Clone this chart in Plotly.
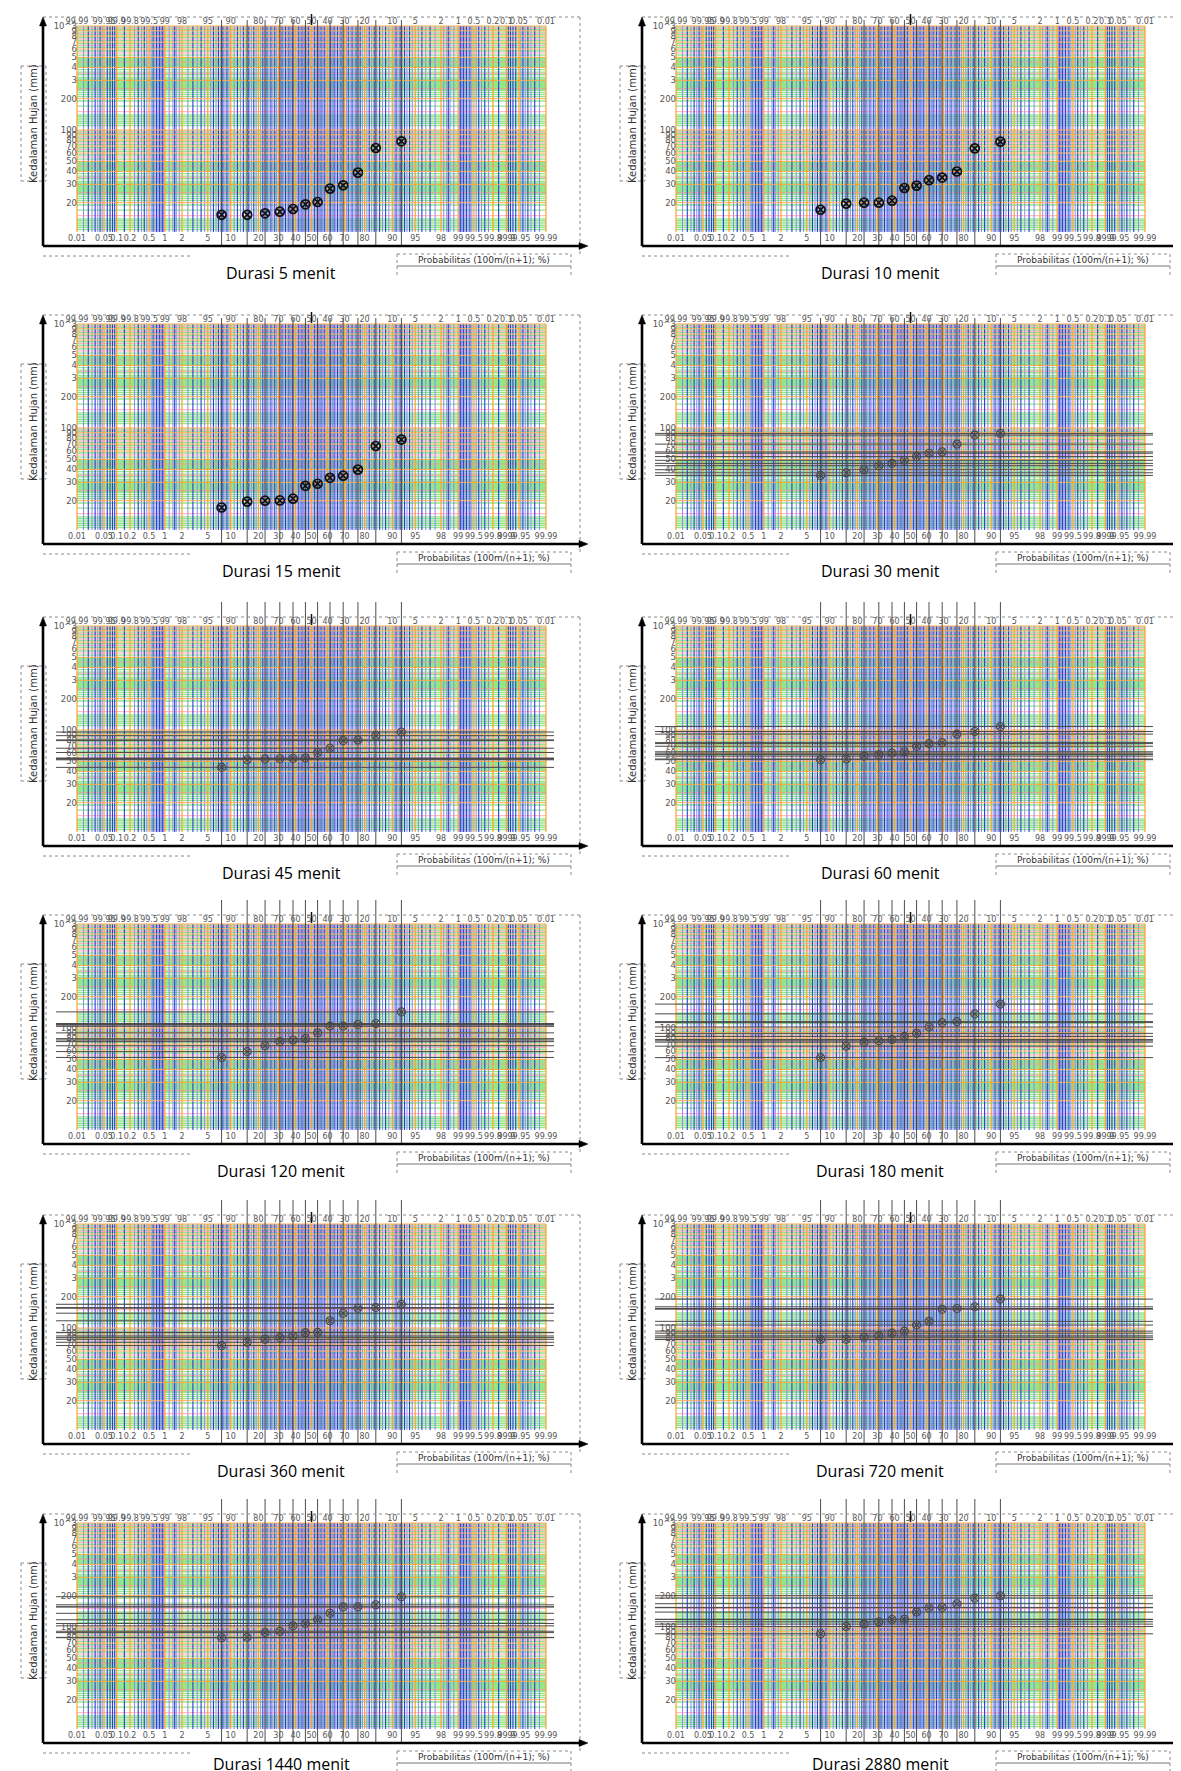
import math
from statistics import NormalDist
import plotly.graph_objects as go

W, H = 1181, 1771

# ---------------- data ----------------
DURATIONS = [5, 10, 15, 30, 45, 60, 120, 180, 360, 720, 1440, 2880]
RANK = [1, 2, 3, 4, 5, 6, 7, 8, 9, 10, 11, 12]
N_DATA = 12

DEPTH_5 = [15.3, 15.3, 15.8, 16.4, 17.4, 19.3, 20.3, 27.3, 29.4, 38.9, 67.1, 77.8]
DEPTH_10 = [17.1, 19.6, 20.0, 20.0, 20.9, 27.7, 29.2, 32.9, 34.9, 39.9, 66.6, 77.3]
DEPTH_15 = [17.2, 19.6, 20.0, 20.1, 20.9, 27.8, 29.1, 33.2, 34.8, 39.8, 67.1, 77.4]
DEPTH_30 = [35.0, 37.1, 39.7, 43.4, 45.7, 48.9, 53.1, 57.2, 58.9, 70.0, 85.5, 88.7]
DEPTH_45 = [43.7, 51.7, 52.5, 52.9, 53.3, 53.7, 60.8, 66.8, 79.1, 80.3, 88.2, 95.6]
DEPTH_60 = [51.8, 52.6, 56.1, 58.2, 59.9, 61.7, 69.8, 74.0, 75.6, 91.3, 96.7, 107.9]
DEPTH_120 = [52.1, 59.3, 67.5, 74.0, 76.7, 79.0, 89.8, 104.3, 104.3, 108.1, 110.5, 142.9]
DEPTH_180 = [51.9, 66.9, 73.1, 75.3, 77.6, 83.0, 88.8, 102.3, 112.7, 115.2, 136.8, 169.8]
DEPTH_360 = [67.8, 72.9, 77.9, 80.8, 83.8, 90.2, 90.8, 117.3, 138.8, 154.9, 157.2, 169.1]
DEPTH_720 = [77.4, 78.0, 81.5, 84.0, 89.2, 93.3, 106.7, 115.9, 151.7, 154.0, 159.9, 189.6]
DEPTH_1440 = [78.9, 79.5, 88.3, 91.0, 102.6, 108.1, 117.4, 135.4, 156.2, 156.2, 163.4, 195.5]
DEPTH_2880 = [86.0, 101.2, 106.6, 112.3, 118.2, 118.6, 139.1, 153.2, 154.4, 167.5, 189.8, 200.0]
DEPTHS = [DEPTH_5, DEPTH_10, DEPTH_15, DEPTH_30, DEPTH_45, DEPTH_60,
          DEPTH_120, DEPTH_180, DEPTH_360, DEPTH_720, DEPTH_1440, DEPTH_2880]

# ---------------- tick labels ----------------
BOTTOM_TICK_P = [0.01, 0.05, 0.1, 0.2, 0.5, 1, 2, 5, 10, 20, 30, 40, 50, 60, 70, 80, 90,
                 95, 98, 99, 99.5, 99.8, 99.9, 99.95, 99.99]
BOTTOM_TICK_TEXT = ["0.01", "0.05", "0.1", "0.2", "0.5", "1", "2", "5", "10", "20", "30", "40",
                    "50", "60", "70", "80", "90", "95", "98", "99", "99.5", "99.8", "99.9",
                    "99.95", "99.99"]
TOP_TICK_TEXT = ["99.99", "99.95", "99.9", "99.8", "99.5", "99", "98", "95", "90", "80", "70",
                 "60", "50", "40", "30", "20", "10", "5", "2", "1", "0.5", "0.2", "0.1",
                 "0.05", "0.01"]
Y_TICK_VALS = [20, 30, 40, 50, 60, 70, 80, 90, 100, 200, 300, 400, 500, 600, 700, 800, 900, 1000]
Y_TICK_TEXT = ["20", "30", "40", "50", "60", "70", "80", "90", "100", "200", "3", "4", "5", "6",
               "7", "8", "9", "10^3"]

# ---------------- probability-paper grid ----------------
GRID_P_BLUE_LOW = [0.02, 0.03, 0.04, 0.06, 0.07, 0.08, 0.09, 0.15, 0.3, 0.4, 0.6, 0.7, 0.8,
                   0.9, 1.5, 3, 4, 6, 7, 8, 9, 12, 14, 16, 18, 22, 24, 26, 28, 32, 34, 36,
                   38, 42, 44, 46, 48]
GRID_P_PURPLE_LOW = [0.015, 0.025, 0.035, 0.045, 0.25, 0.35, 0.45, 0.55, 0.65, 0.75, 0.85,
                     0.95, 1.2, 1.4, 1.6, 1.8, 2.5, 3.5, 4.5, 5.5, 6.5, 7.5, 8.5, 9.5, 11,
                     13, 15, 17, 19, 21, 23, 25, 27, 29, 31, 33, 35, 37, 39, 41, 43, 45, 47, 49]
GRID_P_BLUE = GRID_P_BLUE_LOW + [100 - p for p in GRID_P_BLUE_LOW]
GRID_P_PURPLE = GRID_P_PURPLE_LOW + [100 - p for p in GRID_P_PURPLE_LOW]
GRID_P_ORANGE = BOTTOM_TICK_P

GRID_D_ORANGE = [20, 30, 40, 50, 60, 70, 80, 90, 100, 200, 300, 400, 500, 600, 700, 800, 900, 1000]
GRID_D_PINK = [15, 25, 35, 45, 55, 65, 75, 85, 95, 150, 250, 350, 450, 550, 650, 750, 850, 950]
GREEN_PATTERN = [11, 11.5, 12, 12.5, 13, 13.5, 14, 17, 19, 21, 22, 23, 24, 24.5, 25, 25.25,
                 25.5, 25.75, 26, 26.25, 26.5, 26.75, 27, 27.25, 27.5, 27.75, 28, 28.25,
                 28.5, 28.75, 29, 29.25, 29.5, 29.75, 30.25, 30.5, 31, 32, 34, 36, 38, 40.25,
                 40.5, 41, 41.5, 42, 42.5, 43, 43.5, 44, 44.5, 45.5, 46, 46.5, 47, 47.5, 48,
                 48.5, 49, 49.5, 52.5, 57.5, 62.5, 67.5, 72.5, 77.5, 82.5, 87.5, 92.5, 97.5]
GRID_D_GREEN = GREEN_PATTERN + [10 * v for v in GREEN_PATTERN]

C_GREEN = "#8fe88a"
C_PINK = "#ff93a6"
C_HORANGE = "#ffa850"
C_PURPLE = "#8a88f2"
C_BLUE = "#2a3ce0"
C_VORANGE = "#ff9e30"

# ---------------- geometry helpers (pixels inside one panel) ----------------
COL_OFF = [0, 599]
ROW_OFF = [0, 298, 600, 898, 1198, 1497]
nd = NormalDist()


def z(p):
    return nd.inv_cdf(p / 100.0)


ZMAX = z(99.99)
GRID_L, GRID_R = 69.0, 538.0
PXZ = (GRID_R - GRID_L) / (2 * ZMAX)
DEC = 104.0
GRID_TOP, GRID_BOT, AXIS_Y = 18.0, 224.0, 238.0


def zx(px):
    return -ZMAX + (px - GRID_L) / PXZ


def ly(py):
    return 3 - (py - GRID_TOP) / DEC


def PX(ox, x):
    return (ox + x) / W


def PY(oy, y):
    return 1 - (oy + y) / H


def hsegs(vals, x0, x1):
    xs, ys = [], []
    for v in vals:
        xs += [x0, x1, None]
        ys += [v, v, None]
    return xs, ys


def vsegs(zs, y0, y1):
    xs, ys = [], []
    for zz in zs:
        xs += [zz, zz, None]
        ys += [y0, y1, None]
    return xs, ys


fig = go.Figure()
shapes = []
annotations = []
layout = {}

TICKFONT = dict(family="DejaVu Sans", size=8, color="#555555")
YGRID_LO = 10 ** ly(GRID_BOT)
YGRID_HI = 1000.0

for i, dur in enumerate(DURATIONS):
    row, col = i // 2, i % 2
    ox, oy = COL_OFF[col], ROW_OFF[row]
    top_rel = 5.0 if row < 2 else -6.0
    xa = "x" if i == 0 else f"x{i + 1}"
    ya = "y" if i == 0 else f"y{i + 1}"
    xt = f"x{i + 13}"
    xkey = "xaxis" if i == 0 else f"xaxis{i + 1}"
    ykey = "yaxis" if i == 0 else f"yaxis{i + 1}"
    xtkey = f"xaxis{i + 13}"

    xrange = [zx(40), zx(576)]
    yrange = [ly(AXIS_Y), ly(top_rel)]

    def add_lines(xs, ys, color, width=1.0):
        fig.add_trace(go.Scatter(x=xs, y=ys, mode="lines", xaxis=xa, yaxis=ya,
                                 line=dict(color=color, width=width),
                                 hoverinfo="skip", showlegend=False))

    gl, gr = z(0.01), z(99.99)
    add_lines(*hsegs(GRID_D_GREEN, gl, gr), C_GREEN, 1.3)
    add_lines(*vsegs([z(p) for p in GRID_P_PURPLE], YGRID_LO, YGRID_HI), C_PURPLE, 1.0)
    add_lines(*hsegs(GRID_D_PINK, gl, gr), C_PINK, 0.8)
    add_lines(*vsegs([z(p) for p in GRID_P_BLUE], YGRID_LO, YGRID_HI), C_BLUE, 1.1)
    add_lines(*hsegs(GRID_D_ORANGE, gl, gr), C_HORANGE, 1.0)
    add_lines(*vsegs([z(p) for p in GRID_P_ORANGE], YGRID_LO, YGRID_HI), C_VORANGE, 1.2)

    depth = DEPTHS[i]
    prob = [100.0 * m / (N_DATA + 1) for m in RANK]
    zp = [z(p) for p in prob]

    if dur >= 30:
        add_lines(*hsegs(depth, zx(48), zx(546)), "#4a4a4a", 1.0)
    vtop = 10 ** ly(12) if row < 2 else 10 ** yrange[1]
    add_lines(*vsegs(zp, 10 ** yrange[0], vtop), "#3a3a3a", 0.9)

    mcol = "#111111" if dur <= 15 else "#484848"
    mw = 1.7 if dur <= 15 else 1.1
    msz = 9 if dur <= 15 else 8
    fig.add_trace(go.Scatter(x=zp, y=depth, mode="markers", xaxis=xa, yaxis=ya,
                             marker=dict(symbol="circle-x-open", size=msz,
                                         color=mcol, line=dict(width=mw, color=mcol)),
                             showlegend=False,
                             hovertemplate="P=%{customdata:.1f}%<br>%{y} mm<extra></extra>",
                             customdata=prob))
    fig.add_trace(go.Scatter(x=[None], y=[None], xaxis=xt, yaxis=ya, showlegend=False,
                             hoverinfo="skip"))

    tick_z = [z(p) for p in BOTTOM_TICK_P]
    layout[xkey] = dict(domain=[PX(ox, 40), PX(ox, 576)], range=xrange, anchor="free",
                        position=PY(oy, GRID_BOT), tickmode="array", tickvals=tick_z,
                        ticktext=BOTTOM_TICK_TEXT, tickangle=0, ticks="", showgrid=False,
                        zeroline=False, showline=False, tickfont=TICKFONT, fixedrange=True)
    layout[xtkey] = dict(domain=[PX(ox, 40), PX(ox, 576)], range=xrange, anchor="free",
                         overlaying=xa, side="top", position=PY(oy, GRID_TOP),
                         tickmode="array", tickvals=tick_z, ticktext=TOP_TICK_TEXT,
                         tickangle=0, ticks="", showgrid=False, zeroline=False,
                         showline=False, tickfont=TICKFONT, fixedrange=True)
    layout[ykey] = dict(domain=[PY(oy, AXIS_Y), PY(oy, top_rel)], range=yrange, type="log",
                        anchor="free", position=PX(ox, GRID_L), tickmode="array",
                        tickvals=Y_TICK_VALS, ticktext=Y_TICK_TEXT, ticks="",
                        showgrid=False, zeroline=False, showline=False,
                        tickfont=dict(family="DejaVu Sans", size=8.5, color="#555555"),
                        fixedrange=True)

    def seg(x0, y0, x1, y1, color="#8a8a8a", width=1.0, dash="dot"):
        shapes.append(dict(type="line", xref="paper", yref="paper",
                           x0=PX(ox, x0), y0=PY(oy, y0), x1=PX(ox, x1), y1=PY(oy, y1),
                           line=dict(color=color, width=width, dash=dash)))

    # decorations of the pasted chart
    seg(35, 9, 572, 9)
    seg(572, 9, 572, 248)
    seg(35, 248, 185, 248)
    seg(13, 58, 38, 58)
    seg(13, 173, 38, 173)
    seg(13, 58, 13, 173)
    seg(38, 58, 38, 173)
    seg(389, 246, 563, 246)
    seg(389, 258, 563, 258, color="#777777", dash="solid")
    seg(389, 246, 389, 268)
    seg(563, 246, 563, 268)
    seg(303.5, 6, 303.5, 17, color="#111111", width=1.5, dash="solid")
    # black axes with arrows
    seg(35, 16, 35, AXIS_Y, color="#000000", width=2.6, dash="solid")
    seg(35, AXIS_Y, 572, AXIS_Y, color="#000000", width=2.6, dash="solid")
    shapes.append(dict(type="path", xref="paper", yref="paper", fillcolor="#000000",
                       line=dict(color="#000000", width=0.5),
                       path=f"M {PX(ox,35)} {PY(oy,9)} L {PX(ox,31.5)} {PY(oy,18)} "
                            f"L {PX(ox,38.5)} {PY(oy,18)} Z"))
    shapes.append(dict(type="path", xref="paper", yref="paper", fillcolor="#000000",
                       line=dict(color="#000000", width=0.5),
                       path=f"M {PX(ox,580)} {PY(oy,AXIS_Y)} L {PX(ox,571)} {PY(oy,AXIS_Y-3.5)} "
                            f"L {PX(ox,571)} {PY(oy,AXIS_Y+3.5)} Z"))

    annotations.append(dict(text="Kedalaman Hujan (mm)", xref="paper", yref="paper",
                            x=PX(ox, 25.5), y=PY(oy, 115.5), showarrow=False, textangle=-90,
                            font=dict(family="DejaVu Sans", size=10, color="#333333"),
                            xanchor="center", yanchor="middle"))
    annotations.append(dict(text="Probabilitas (100m/(n+1); %)", xref="paper", yref="paper",
                            x=PX(ox, 476), y=PY(oy, 252), showarrow=False,
                            font=dict(family="DejaVu Sans", size=9, color="#333333"),
                            xanchor="center", yanchor="middle"))
    cap_y = 259 if row == 5 else 265
    annotations.append(dict(text=f"Durasi {dur} menit", xref="paper", yref="paper",
                            x=PX(ox, 273), y=PY(oy, cap_y), showarrow=False,
                            font=dict(family="Open Sans", size=16, color="#000000"),
                            xanchor="center", yanchor="middle"))

fig.update_layout(width=W, height=H, margin=dict(l=0, r=0, t=0, b=0),
                  paper_bgcolor="white", plot_bgcolor="white", showlegend=False,
                  shapes=shapes, annotations=annotations, **layout)
fig.write_html("out.html")
